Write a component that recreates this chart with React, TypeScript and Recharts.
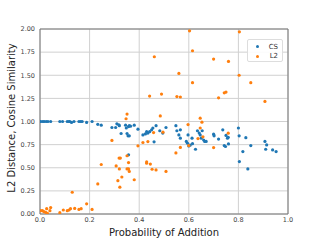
import React from 'react';
import { ScatterChart, Scatter, XAxis, YAxis, CartesianGrid, ReferenceLine } from 'recharts';

// CS (cosine similarity) points: [probability, value]
const csX = [0.003, 0.011, 0.017, 0.025, 0.032, 0.043, 0.08, 0.091, 0.11, 0.117, 0.12, 0.127, 0.137, 0.157, 0.164, 0.17, 0.188, 0.21, 0.233, 0.247,
  0.29, 0.305, 0.31, 0.318, 0.32, 0.327, 0.345, 0.348, 0.351, 0.355, 0.357, 0.36, 0.36, 0.357, 0.365, 0.38, 0.395,
  0.415, 0.425, 0.43, 0.435, 0.442, 0.45, 0.455, 0.46, 0.468, 0.483, 0.495, 0.508,
  0.548, 0.552, 0.56, 0.566, 0.566, 0.59, 0.595, 0.597, 0.6, 0.606, 0.613, 0.615, 0.627, 0.635, 0.642, 0.646, 0.65, 0.654, 0.66, 0.664, 0.67,
  0.7, 0.702, 0.72, 0.737, 0.743, 0.748, 0.75, 0.756, 0.759, 0.76,
  0.8, 0.803, 0.804, 0.818, 0.83, 0.838, 0.85, 0.907, 0.91, 0.914, 0.938, 0.952];
const csY = [1.0, 1.0, 1.0, 1.0, 1.0, 1.0, 1.0, 1.0, 1.0, 1.0, 1.0, 0.99, 1.0, 1.0, 1.0, 1.0, 0.99, 1.0, 0.97, 0.96,
  0.935, 0.935, 0.975, 0.965, 0.955, 0.87, 0.96, 0.93, 0.87, 0.845, 0.945, 0.955, 0.845, 0.64, 0.95, 0.96, 0.917,
  0.855, 0.866, 0.89, 0.875, 0.89, 0.91, 0.93, 0.78, 0.955, 0.9, 0.875, 0.935,
  0.955, 0.9, 0.855, 0.91, 0.82, 0.785, 0.765, 0.855, 0.735, 0.745, 0.82, 0.76, 0.7, 0.9, 0.875, 0.855, 0.82, 0.9, 0.8, 0.785, 0.785,
  0.863, 0.845, 0.81, 0.91, 0.74, 0.73, 0.85, 0.82, 0.83, 0.758,
  0.93, 0.845, 0.567, 0.675, 0.825, 0.487, 0.74, 0.785, 0.7, 0.747, 0.693, 0.675];

// L2 distance points
const l2X = [0.003, 0.01, 0.016, 0.023, 0.027, 0.03, 0.04, 0.043, 0.08, 0.094, 0.11, 0.117, 0.123, 0.13, 0.14, 0.157, 0.166, 0.188, 0.21,
  0.233, 0.247, 0.29, 0.307, 0.314, 0.319, 0.324, 0.322, 0.32, 0.33, 0.347, 0.351, 0.351, 0.351, 0.357, 0.357, 0.36, 0.38, 0.395,
  0.415, 0.43, 0.43, 0.435, 0.442, 0.445, 0.452, 0.458, 0.461, 0.468, 0.485, 0.49, 0.496, 0.508,
  0.548, 0.552, 0.56, 0.566, 0.566, 0.597, 0.6, 0.603, 0.615, 0.615, 0.637, 0.646, 0.646, 0.653, 0.657,
  0.7, 0.7, 0.72, 0.743, 0.75, 0.759, 0.76, 0.803, 0.804, 0.85, 0.907];
const l2Y = [0.036, 0.036, 0.025, 0.018, 0.058, 0.007, 0.036, 0.069, 0.014, 0.043, 0.036, 0.043, 0.058, 0.235, 0.06, 0.05, 0.058, 0.11, 0.05,
  0.325, 0.535, 0.795, 0.52, 0.36, 0.605, 0.605, 0.29, 0.487, 0.4, 1.03, 1.08, 0.63, 0.487, 0.556, 0.487, 0.46, 0.37, 0.737,
  0.773, 0.563, 0.55, 0.783, 1.275, 0.54, 0.484, 0.88, 1.7, 0.476, 1.06, 1.296, 0.885, 0.46,
  0.66, 1.27, 1.52, 1.265, 0.72, 0.967, 0.74, 1.98, 1.42, 1.765, 0.815, 1.036, 0.93, 0.993, 0.834,
  1.675, 0.718, 1.256, 1.31, 1.318, 0.874, 1.65, 1.5, 1.97, 1.42, 1.217];

const xTicks = [0, 0.2, 0.4, 0.6, 0.8, 1.0];
const yTicks = [0, 0.25, 0.5, 0.75, 1.0, 1.25, 1.5, 1.75, 2.0];

const csData = csX.map((x, i) => ({ x, y: csY[i] }));
const l2Data = l2X.map((x, i) => ({ x, y: l2Y[i] }));

const BLUE = '#1f77b4';
const ORANGE = '#ff7f0e';
const FONT = 'DejaVu Sans, sans-serif';
const FRAME = '#777';

const dot = (color) => (props) => (
  <circle cx={props.cx} cy={props.cy} r={1.6} fill={color} />
);

function LegendBox() {
  return (
    <div style={{ position: 'absolute', left: 247, top: 39, width: 36, height: 23, border: '1px solid #ddd', borderRadius: 2, background: 'rgba(255,255,255,0.9)', fontFamily: FONT, fontSize: 7, color: '#333', boxSizing: 'border-box', padding: '2px 4px 2px 0' }}>
      {[['CS', BLUE], ['L2', ORANGE]].map(([name, c]) => (
        <div key={name} style={{ display: 'flex', alignItems: 'center', justifyContent: 'space-between', height: 9.5 }}>
          <span style={{ width: 3, height: 3, borderRadius: 2, background: c, marginLeft: 8 }} />
          <span>{name}</span>
        </div>
      ))}
    </div>
  );
}

export default function App() {
  return (
    <div style={{ position: 'absolute', left: 0, top: 0, width: 320, height: 241, background: '#fff', overflow: 'hidden' }}>
      <ScatterChart width={320} height={241} margin={{ top: 29, right: 32, bottom: 0, left: 0 }}>
        <CartesianGrid stroke="#d0d0d0" strokeWidth={1} />
        <XAxis type="number" dataKey="x" domain={[0, 1]} ticks={xTicks} tickFormatter={(v) => v.toFixed(1)}
          tick={{ fontSize: 6.5, fill: '#444', fontFamily: FONT }} tickLine={false} tickSize={0} axisLine={{ stroke: FRAME }}
          height={27} tickMargin={3} allowDataOverflow />
        <YAxis type="number" dataKey="y" domain={[0, 2]} ticks={yTicks} tickFormatter={(v) => v.toFixed(2)}
          tick={{ fontSize: 6.5, fill: '#444', fontFamily: FONT }} tickLine={false} tickSize={0} axisLine={{ stroke: FRAME }}
          width={40} tickMargin={5} allowDataOverflow />
        <ReferenceLine y={2} stroke={FRAME} />
        <ReferenceLine x={1} stroke={FRAME} />
        <Scatter name="CS" data={csData} fill={BLUE} shape={dot(BLUE)} isAnimationActive={false} />
        <Scatter name="L2" data={l2Data} fill={ORANGE} shape={dot(ORANGE)} isAnimationActive={false} />
      </ScatterChart>
      <LegendBox />
      <div style={{ position: 'absolute', left: 64, top: 227, width: 200, textAlign: 'center', fontFamily: FONT, fontSize: 10, color: '#222', whiteSpace: 'nowrap', lineHeight: '12px' }}>
        Probability of Addition
      </div>
      <div style={{ position: 'absolute', left: 12, top: 118, width: 0, height: 0 }}>
        <div style={{ position: 'absolute', left: -100, top: -6, width: 200, textAlign: 'center', transform: 'rotate(-90deg)', fontFamily: FONT, fontSize: 10, color: '#222', whiteSpace: 'nowrap', lineHeight: '12px' }}>
          L2 Distance, Cosine Similarity
        </div>
      </div>
    </div>
  );
}
